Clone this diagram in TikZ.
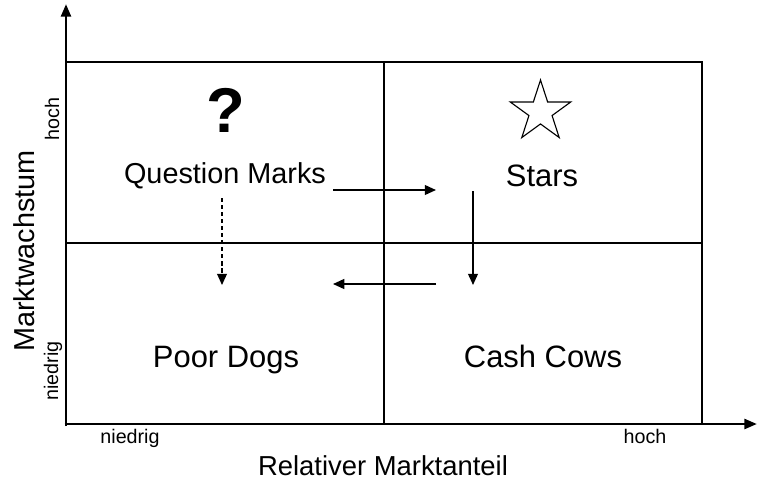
\documentclass[tikz,border=0pt]{standalone}
\usepackage{fontspec}
\setmainfont{Liberation Sans}
\usetikzlibrary{arrows.meta, positioning, shapes.geometric}
\tikzset{
  gridLine/.style={line width=1.2pt},
  axisLine/.style={-{Triangle[length=9pt, width=7pt]}, line width=2pt},
  moveArrow/.style={-{Triangle[length=8pt, width=7pt]}, line width=1.2pt},
  moveDashed/.style={-{Triangle[length=8pt, width=7pt]}, line width=1pt,
                     dash pattern=on 3pt off 2pt},
  quadLabel/.style={font=\fontsize{22}{26}\selectfont, anchor=base},
  axisTag/.style={font=\fontsize{14}{16}\selectfont, anchor=base},
  axisTitle/.style={font=\fontsize{19.5}{22}\selectfont, anchor=base},
}

\begin{document}
\begin{tikzpicture}[x=0.025cm, y=-0.025cm]
    \useasboundingbox (0,0) rectangle (757,482);
    % portfolio grid
    \draw[gridLine] (66,62) rectangle (702,424);
    \draw[gridLine] (384,62) -- (384,424);
    \draw[gridLine] (66,243) -- (702,243);
    % axes
    \coordinate (origin) at (66,426);
    \coordinate (yTop) at (66,4);
    \coordinate (xEnd) at (757,424);
    \draw[axisLine] (origin) -- (yTop);
    \draw[axisLine] (64.5,424) -- (xEnd);
    % quadrants
    \node[font=\bfseries\fontsize{45}{48}\selectfont, anchor=base] (qmark) at (226,132) {?};
    \node[star, star points=5, star point ratio=2.618, draw, line width=0.8pt,
          minimum size=1.59cm, inner sep=0pt] (starIcon) at (540.5,111.8) {};
    \node[quadLabel, font=\fontsize{20.5}{24}\selectfont] (qm) at (225,183) {Question Marks};
    \node[quadLabel] (stars) at (542,186) {Stars};
    \node[quadLabel] (dogs) at (226,367) {Poor Dogs};
    \node[quadLabel] (cows) at (543,367) {Cash Cows};
    % movements
    \coordinate (qmOut) at (333,190);
    \coordinate (starIn) at (436,190);
    \coordinate (starOut) at (473,191);
    \coordinate (cowIn) at (473,285);
    \coordinate (cowOut) at (436,284);
    \coordinate (qmFeed) at (333,284);
    \coordinate (qmDrop) at (222,198);
    \coordinate (dogIn) at (222,285);
    \draw[moveArrow] (qmOut) -- (starIn);
    \draw[moveArrow] (starOut) -- (cowIn);
    \draw[moveArrow] (cowOut) -- (qmFeed);
    \draw[moveDashed] (qmDrop) -- (dogIn);
    % axis labels
    \node[axisTag] (xLow) at (130,443) {niedrig};
    \node[axisTag] (xHigh) at (645,443) {hoch};
    \node[axisTitle] (xTitle) at (383,475) {Relativer Marktanteil};
    \node[axisTag, rotate=90] (yHigh) at (59,119) {hoch};
    \node[axisTag, rotate=90] (yLow) at (58,371) {niedrig};
    \node[axisTitle, rotate=90, font=\fontsize{20.5}{24}\selectfont] (yTitle) at (34,251) {Marktwachstum};
\end{tikzpicture}
\end{document}
